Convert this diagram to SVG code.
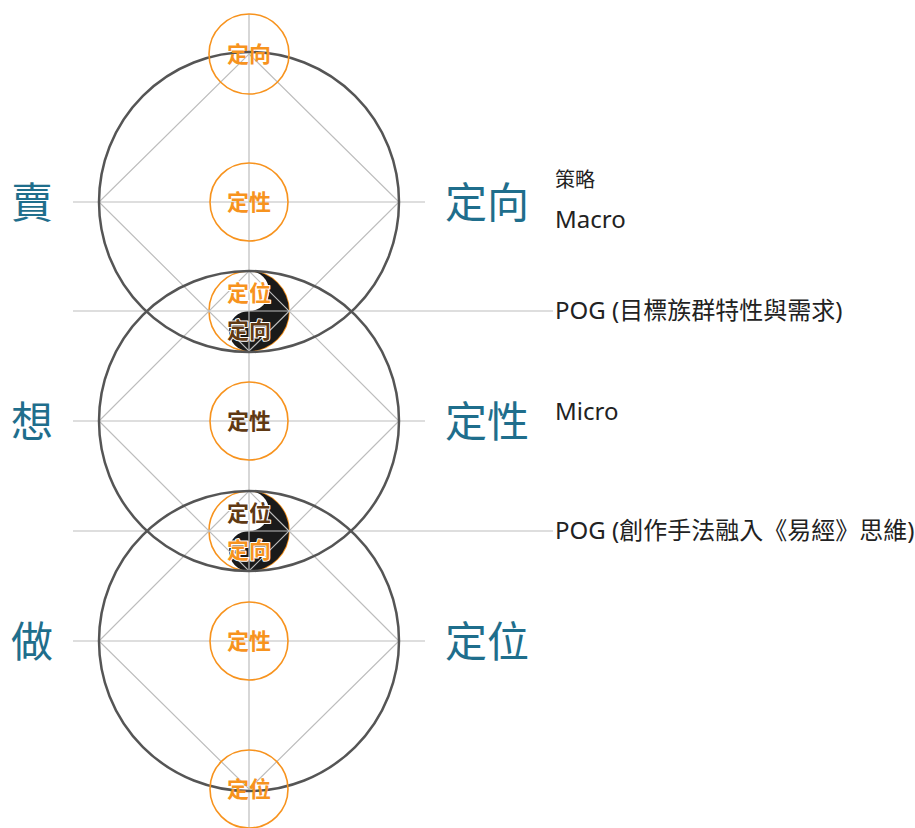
<svg xmlns="http://www.w3.org/2000/svg" width="915" height="828" viewBox="0 0 915 828">
<style>
.big{fill:none;stroke:#555;stroke-width:2.5}
.thin{stroke:#bdbdbd;stroke-width:1.2;fill:none}
.sm{fill:none;stroke:#F7931E;stroke-width:1.6}
.yin{fill:#1a1a1a}
.ct{font-family:"Noto Sans CJK TC","Noto Sans",sans-serif;font-weight:bold;font-size:22px;text-anchor:middle}
.or{fill:#F7931E}
.br{fill:#603913}
.ol{stroke:#fff;stroke-width:2;paint-order:stroke;stroke-linejoin:round}
.side{font-family:"Noto Sans CJK TC","Noto Sans",sans-serif;font-size:42px;fill:#1F6E8C}
.note{font-family:"Noto Sans","Noto Sans CJK TC",sans-serif;font-size:24px;fill:#222}
</style>
<g id="yinyang-shapes">
<circle cx="249" cy="311" r="40" fill="#fff" stroke="#F7931E" stroke-width="1.6"/>
<path class="yin" d="M249,271 A40,40 0 0 1 249,351 A20,20 0 0 1 249,311 A20,20 0 0 0 249,271 Z"/>
<circle cx="249" cy="531" r="40" fill="#fff" stroke="#F7931E" stroke-width="1.6"/>
<path class="yin" d="M249,491 A40,40 0 0 1 249,571 A20,20 0 0 1 249,531 A20,20 0 0 0 249,491 Z"/>
</g>
<g id="connectors">
<line class="thin" x1="249" y1="14" x2="249" y2="828"/>
<line class="thin" x1="73" y1="202" x2="425" y2="202"/>
<line class="thin" x1="73" y1="311" x2="553" y2="311"/>
<line class="thin" x1="73" y1="421" x2="425" y2="421"/>
<line class="thin" x1="73" y1="531" x2="553" y2="531"/>
<line class="thin" x1="73" y1="641" x2="425" y2="641"/>
<polygon class="thin" points="249,54 399,202 249,351 99,202"/>
<polygon class="thin" points="249,271 399,421 249,571 99,421"/>
<polygon class="thin" points="249,491 399,641 249,789 99,641"/>
</g>
<g id="big-circles">
<circle id="circle-sell" class="big" cx="249" cy="202" r="150"/>
<circle id="circle-think" class="big" cx="249" cy="421" r="150"/>
<circle id="circle-do" class="big" cx="249" cy="641" r="150"/>
</g>
<g id="node-top">
<circle class="sm" cx="249" cy="54" r="40"/>
<text class="ct or" x="249" y="62">定向</text>
</g>
<g id="node-sell-center">
<circle class="sm" cx="249" cy="202" r="39"/>
<text class="ct or" x="249" y="210">定性</text>
</g>
<g id="node-yy1">
<text class="ct or ol" x="249" y="301">定位</text>
<text class="ct br ol" x="249" y="338">定向</text>
</g>
<g id="node-think-center">
<circle class="sm" cx="249" cy="421" r="39"/>
<text class="ct br" x="249" y="429">定性</text>
</g>
<g id="node-yy2">
<text class="ct br ol" x="249" y="521">定位</text>
<text class="ct or ol" x="249" y="558">定向</text>
</g>
<g id="node-do-center">
<circle class="sm" cx="249" cy="641" r="39"/>
<text class="ct or" x="249" y="649">定性</text>
</g>
<g id="node-bottom">
<circle class="sm" cx="249" cy="789" r="39"/>
<text class="ct or" x="249" y="797">定位</text>
</g>
<g id="labels-left">
<text class="side" x="32" y="218" text-anchor="middle">賣</text>
<text class="side" x="32" y="437" text-anchor="middle">想</text>
<text class="side" x="32" y="657" text-anchor="middle">做</text>
</g>
<g id="labels-right">
<text class="side" x="445" y="218">定向</text>
<text class="side" x="445" y="437">定性</text>
<text class="side" x="445" y="657">定位</text>
</g>
<g id="notes">
<text class="note" x="555" y="187" style="font-size:20px">策略</text>
<text class="note" x="555" y="228">Macro</text>
<text class="note" x="555" y="319">POG (目標族群特性與需求)</text>
<text class="note" x="555" y="420">Micro</text>
<text class="note" x="555" y="539">POG (創作手法融入《易經》思維)</text>
</g>
</svg>
